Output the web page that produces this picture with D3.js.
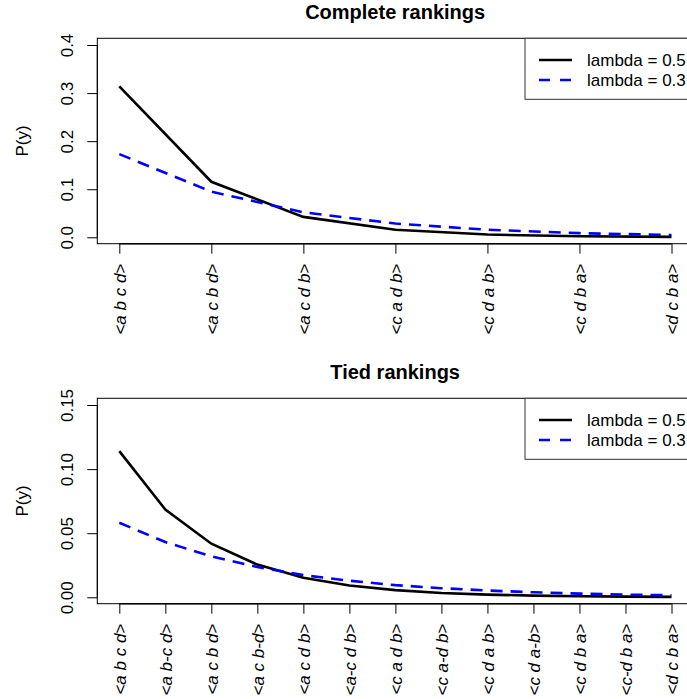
<!DOCTYPE html>
<html><head><meta charset="utf-8">
<script src="https://cdn.jsdelivr.net/npm/d3@7"></script>
<style>body{margin:0;background:#fff}svg{display:block}</style></head>
<body>
<script>
// ---- data ----
const completeCats = ["<a b c d>","<a c b d>","<a c d b>","<c a d b>","<c d a b>","<c d b a>","<d c b a>"];
const completeL05 = [0.314, 0.1155, 0.0425, 0.0156, 0.0057, 0.0021, 0.0008];
const completeL03 = [0.173, 0.095, 0.052, 0.0286, 0.0157, 0.0086, 0.0047];
const completeTicks = [0, 0.1, 0.2, 0.3, 0.4];

const tiedCats = ["<a b c d>","<a b-c d>","<a c b d>","<a c b-d>","<a c d b>","<a-c d b>","<c a d b>","<c a-d b>","<c d a b>","<c d a-b>","<c d b a>","<c-d b a>","<d c b a>"];
const tiedL05 = [0.114, 0.0685, 0.0418, 0.0255, 0.0152, 0.0092, 0.0056, 0.0034, 0.0021, 0.0013, 0.0008, 0.0005, 0.0003];
const tiedL03 = [0.0582, 0.0431, 0.0319, 0.0236, 0.0173, 0.0129, 0.0095, 0.0071, 0.0053, 0.0039, 0.0029, 0.0021, 0.0016];
const tiedTicks = [0, 0.05, 0.10, 0.15];

const legendLabels = ["lambda = 0.5", "lambda = 0.3"];
const seriesColors = ["#000000", "#0000ff"];
const seriesDash = [null, "12,8"];

const W = 687, H = 699;
const FONT = "'Liberation Sans', Arial, Helvetica, sans-serif";
const svg = d3.select("body").append("svg").attr("width", W).attr("height", H)
  .style("font-family", FONT);

function panel(opt) {
  const g = svg.append("g").attr("transform", `translate(0,${opt.top})`);
  const left = 97.3, right = 693, pTop = 38.3, pBot = 243.7;
  const x = d3.scalePoint().domain(opt.cats).range([119.3, 671.5]);
  const y = d3.scaleLinear().domain([0, opt.ymax]).range([237.3, 45]);

  // title
  g.append("text").attr("x", (left + right) / 2).attr("y", 18.5)
    .attr("text-anchor", "middle").attr("font-weight", "bold")
    .attr("font-size", 20).text(opt.title);

  // box
  g.append("rect").attr("x", left).attr("y", pTop).attr("width", right - left)
    .attr("height", pBot - pTop).attr("fill", "none").attr("stroke", "#000").attr("stroke-width", 1);

  // y axis
  const ya = g.append("g").attr("transform", `translate(${left},0)`)
    .call(d3.axisLeft(y).tickValues(opt.ticks).tickFormat(d3.format(opt.fmt)).tickSize(10).tickSizeOuter(0));
  ya.select(".domain").attr("d", `M0,${y(opt.ticks[0])}V${y(opt.ticks[opt.ticks.length-1])}`).attr("stroke", "#000");
  ya.selectAll(".tick line").attr("stroke", "#000");
  ya.selectAll(".tick text")
    .attr("x", null).attr("dy", null)
    .attr("font-size", 17).attr("font-family", FONT).attr("fill", "#000")
    .attr("text-anchor", "middle")
    .attr("transform", "translate(-30,0) rotate(-90)")
    .attr("dy", "0.35em");

  // y label
  g.append("text").attr("transform", `translate(22,${(pTop + pBot) / 2}) rotate(-90)`)
    .attr("text-anchor", "middle").attr("dy", "0.35em").attr("font-size", 17).text("P(y)");

  // x axis
  const xa = g.append("g").attr("transform", `translate(0,${pBot})`)
    .call(d3.axisBottom(x).tickSize(10).tickSizeOuter(0));
  xa.select(".domain").attr("stroke", "#000").attr("stroke-width", 1.5)
    .attr("d", `M${x(opt.cats[0])},0H${x(opt.cats[opt.cats.length-1])}`);
  xa.selectAll(".tick line").attr("stroke", "#000");
  xa.selectAll(".tick text")
    .attr("y", null).attr("dy", null)
    .attr("font-size", 17).attr("font-family", FONT).attr("fill", "#000")
    .attr("font-style", "italic")
    .attr("text-anchor", "end")
    .attr("transform", "translate(0,20) rotate(-90)")
    .attr("dy", "0.35em");

  // lines
  const line = d3.line().x((d, i) => x(opt.cats[i])).y(d => y(d));
  opt.series.forEach((s, k) => {
    g.append("path").datum(s).attr("d", line).attr("fill", "none")
      .attr("stroke", seriesColors[k]).attr("stroke-width", 2.6)
      .attr("stroke-dasharray", seriesDash[k]);
  });

  // legend
  const lg = g.append("g");
  lg.append("rect").attr("x", 525).attr("y", pTop).attr("width", right - 525).attr("height", 61)
    .attr("fill", "#fff").attr("stroke", "#333").attr("stroke-width", 1);
  legendLabels.forEach((lab, k) => {
    const ly = 60 + k * 20;
    lg.append("line").attr("x1", 539).attr("x2", 572).attr("y1", ly).attr("y2", ly)
      .attr("stroke", seriesColors[k]).attr("stroke-width", 2.6)
      .attr("stroke-dasharray", k ? "11,10" : null);
    lg.append("text").attr("x", 587).attr("y", ly).attr("dy", "0.35em")
      .attr("font-size", 17).text(lab);
  });
}

panel({top: 0, title: "Complete rankings", cats: completeCats, series: [completeL05, completeL03],
  ymax: 0.4, ticks: completeTicks, fmt: ".1f"});
panel({top: 360, title: "Tied rankings", cats: tiedCats, series: [tiedL05, tiedL03],
  ymax: 0.15, ticks: tiedTicks, fmt: ".2f"});
</script>
</body></html>
